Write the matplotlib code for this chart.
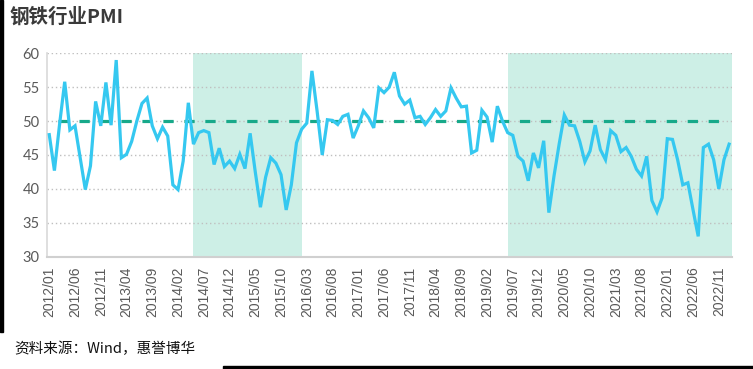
import numpy as np
import pandas as pd
import matplotlib
matplotlib.use("Agg")
import matplotlib.pyplot as plt
from matplotlib.patches import Rectangle

plt.rcParams["font.family"] = ["Noto Sans CJK SC", "DejaVu Sans"]

# 钢铁行业PMI, 月度, 2012/01 - 2023/01
pmi = [
    48.0, 42.7, 49.5, 55.8, 48.7, 49.3, 44.6, 39.9, 43.4, 52.9,
    49.3, 55.7, 49.4, 59.0, 44.6, 45.1, 47.0, 50.0, 52.6, 53.4,
    49.3, 47.4, 49.1, 47.8, 40.6, 39.9, 44.1, 52.7, 46.6, 48.3,
    48.6, 48.3, 43.6, 46.0, 43.3, 44.1, 43.0, 45.1, 43.0, 48.2,
    42.5, 37.3, 41.7, 44.6, 43.8, 42.1, 36.9, 40.6, 46.8, 48.8,
    49.7, 57.4, 51.5, 45.0, 50.2, 50.1, 49.5, 50.7, 51.0, 47.5,
    49.3, 51.5, 50.5, 49.0, 54.9, 54.2, 55.0, 57.2, 53.7, 52.5,
    53.1, 50.5, 50.7, 49.5, 50.5, 51.7, 50.7, 51.5, 54.9, 53.4,
    52.1, 52.2, 45.3, 45.7, 51.6, 50.6, 46.9, 52.2, 50.0, 48.3,
    47.9, 44.8, 44.1, 41.2, 45.3, 43.1, 47.1, 36.5, 41.9, 46.6,
    50.9, 49.4, 49.3, 47.0, 44.0, 45.6, 49.4, 45.8, 44.3, 48.6,
    47.9, 45.5, 46.1, 44.8, 42.9, 41.9, 44.8, 38.3, 36.6, 38.7,
    47.4, 47.3, 44.3, 40.6, 40.9, 36.9, 33.0, 46.1, 46.6, 44.3,
    40.0, 44.3, 46.6,
]
months = pd.period_range("2012-01", periods=len(pmi), freq="M")
labels = [m.strftime("%Y/%m") for m in months]
threshold = 50
# 阴影区间（起止月份）
shade_periods = [("2014-05", "2016-02"), ("2019-06", None)]

idx = np.arange(len(pmi))
month_pos = {str(m): i for i, m in enumerate(months)}

fig = plt.figure(figsize=(7.53, 3.69), dpi=100)
ax = fig.add_axes([0.062, 0.3043, 0.9097, 0.5513])

for start, end in shade_periods:
    x0 = month_pos[start]
    x1 = month_pos[end] if end else idx[-1] + 0.5
    ax.axvspan(x0, x1, color="#CDEFE6", lw=0, zorder=0)

lw = 2.3
ax.plot(idx, [threshold] * len(idx), color="#17A98A", lw=lw,
        linestyle=(8.6 / lw, (7.4 / lw, 7.7 / lw)), zorder=2)
ax.plot(idx, pmi, color="#35C8F0", lw=lw, solid_joinstyle="miter", zorder=3)

ax.set_xlim(-0.5, len(pmi) - 0.5)
ax.set_ylim(30, 60)
ax.set_yticks(np.arange(30, 61, 5))
ax.set_xticks(idx[::5])
ax.set_xticklabels(labels[::5], rotation=90, fontsize=10, color="#595959",
                   family=["Liberation Sans", "DejaVu Sans"])
for t in ax.get_yticklabels():
    t.set_family(["Lato", "DejaVu Sans"])
    t.set_fontsize(10.5)
    t.set_color("#595959")
ax.tick_params(axis="both", length=0, pad=5)
ax.tick_params(axis="x", pad=7)

ax.grid(axis="y", color="#BFBFBF", linestyle=(0, (1, 2)), lw=1)
ax.set_axisbelow(True)
for s in ["top", "right"]:
    ax.spines[s].set_visible(False)
ax.spines["left"].set_color("#D9D9D9")
ax.spines["left"].set_linewidth(1.2)
ax.spines["bottom"].set_color("#D0D0D0")
ax.spines["bottom"].set_linewidth(1.5)

fig.text(0.012, 0.953, "钢铁行业PMI", fontsize=14, fontweight="bold",
         color="#3A3A3A", va="center", ha="left")
fig.text(0.019, 0.054, "资料来源：Wind，惠誉博华", fontsize=10.5,
         color="#111111", va="center", ha="left")

# 截图边缘的黑色边框
fig.patches.append(Rectangle((0, 37 / 369), 3 / 753, 332 / 369,
                             transform=fig.transFigure, color="black", zorder=5))
fig.patches.append(Rectangle((223 / 753, 0), 530 / 753, 3 / 369,
                             transform=fig.transFigure, color="black", zorder=5))

fig.savefig("out.png", dpi=100)
